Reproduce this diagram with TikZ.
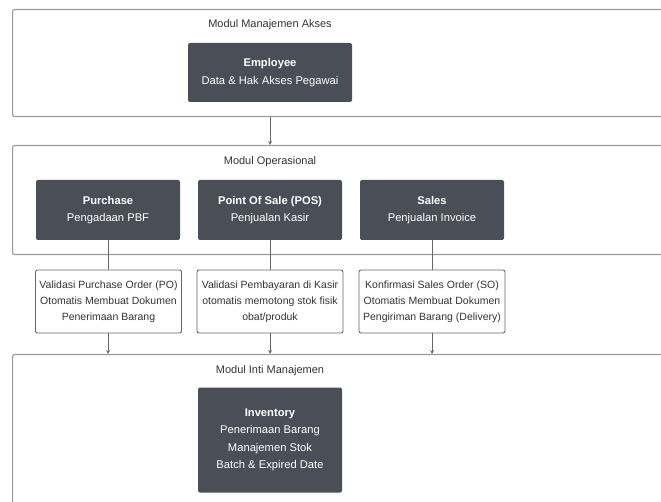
\documentclass[tikz,border=0pt]{standalone}
\usepackage{fontspec}
\setmainfont{Liberation Sans}
\usetikzlibrary{arrows,positioning,calc}
\definecolor{boxgray}{HTML}{4A4E57}
\definecolor{framegray}{HTML}{9A9A9A}
\definecolor{linegray}{HTML}{666666}
\definecolor{textgray}{HTML}{333333}

\begin{document}
\begin{tikzpicture}
      [x = 1pt, y = -1pt,
      cluster/.style = {
         draw = framegray,
         line width = 1.2pt,
         rounded corners = 2pt,
         anchor = north west,
         inner sep = 0pt
      },
      heading/.style = {
         text = textgray,
         font = \fontsize{11}{13}\selectfont
      },
      module/.style = {
         fill = boxgray,
         text = white,
         rounded corners = 2pt,
         align = center,
         minimum width = 144pt,
         minimum height = 60pt,
         font = \fontsize{11.2}{17.5}\selectfont
      },
      check/.style = {
         draw = linegray,
         fill = white,
         text = textgray,
         line width = 0.9pt,
         rounded corners = 2pt,
         align = center,
         minimum width = 146pt,
         minimum height = 63pt,
         font = \fontsize{10.5}{16}\selectfont
      },
      link/.style = {draw = linegray, line width = 0.8pt},
      flow/.style = {link, -stealth}]
      \useasboundingbox (0, 0) rectangle (661, 502);
      \clip (0, 0) rectangle (661, 502);

      % module frames
      \node[cluster, minimum width = 690pt, minimum height = 107pt] (akses) at (12, 9) {};
      \node[cluster, minimum width = 690pt, minimum height = 109pt] (ops) at (12, 145) {};
      \node[cluster, minimum width = 690pt, minimum height = 170pt] (inti) at (12, 354) {};

      \node[heading] (aksestitle) at (270, 25) {Modul Manajemen Akses};
      \node[heading] (opstitle) at (270, 162) {Modul Operasional};
      \node[heading] (intititle) at (270, 371) {Modul Inti Manajemen};

      % modules
      \node[module, minimum width = 164pt, minimum height = 59pt] (emp) at (270, 72.5)
         {\textbf{Employee}\\Data \& Hak Akses Pegawai};
      \node[module] (purchase) at (108, 210) {\textbf{Purchase}\\Pengadaan PBF};
      \node[module] (pos) at (270, 210) {\textbf{Point Of Sale (POS)}\\Penjualan Kasir};
      \node[module] (sales) at (432, 210) {\textbf{Sales}\\Penjualan Invoice};
      \node[module, minimum height = 105pt] (inv) at (270, 440)
         {\textbf{Inventory}\\Penerimaan Barang\\Manajemen Stok\\Batch \& Expired Date};

      % validations
      \node[check] (valpo) at (108.5, 301.5)
         {Validasi Purchase Order (PO)\\Otomatis Membuat Dokumen\\Penerimaan Barang};
      \node[check] (valpos) at (270, 301.5)
         {Validasi Pembayaran di Kasir\\otomatis memotong stok fisik\\obat/produk};
      \node[check] (valso) at (432, 301.5)
         {Konfirmasi Sales Order (SO)\\Otomatis Membuat Dokumen\\Pengiriman Barang (Delivery)};

      % connectors
      \draw[flow] (emp |- akses.south) -- (emp |- ops.north);
      \draw[link] (purchase.south) -- (purchase.south |- valpo.north);
      \draw[link] (pos.south) -- (pos.south |- valpos.north);
      \draw[link] (sales.south) -- (sales.south |- valso.north);
      \draw[flow] (purchase.south |- valpo.south) -- (purchase.south |- inti.north);
      \draw[flow] (valpos.south) -- (valpos.south |- inti.north);
      \draw[flow] (valso.south) -- (valso.south |- inti.north);

   \end{tikzpicture}
\end{document}
